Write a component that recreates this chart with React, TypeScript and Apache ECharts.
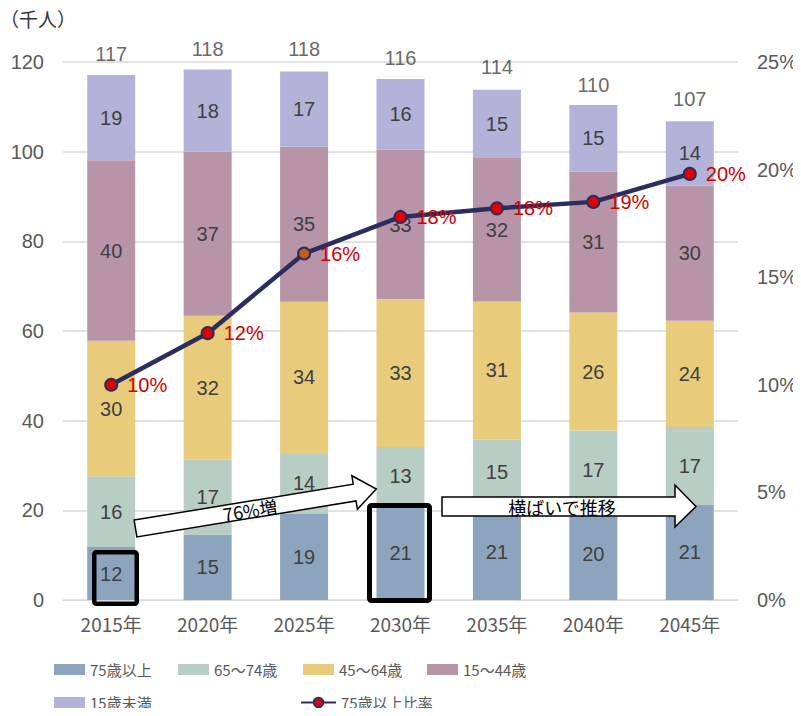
import React, { useEffect, useRef } from "react";
import * as echarts from "echarts";

const years = ["2015年", "2020年", "2025年", "2030年", "2035年", "2040年", "2045年"];
const age75plus = [11.8, 14.6, 19.2, 21.0, 21.2, 20.4, 21.2];
const age65to74 = [15.8, 16.7, 13.6, 13.1, 14.6, 17.4, 17.4];
const age45to64 = [30.2, 32.1, 33.7, 33.0, 30.8, 26.3, 23.7];
const age15to44 = [40.3, 36.6, 34.6, 33.3, 32.0, 31.4, 30.1];
const under15 = [19.0, 18.3, 16.8, 15.8, 15.2, 14.9, 14.4];
const totals = [117, 118, 118, 116, 114, 110, 107];
const ratio75 = [10.0, 12.4, 16.1, 17.8, 18.2, 18.5, 19.8];
const leftTicks = [0, 20, 40, 60, 80, 100, 120];
const rightTicks = [0, 5, 10, 15, 20, 25];

const NUM_FONT = "Liberation Sans, Arial, sans-serif";
const JP_FONT = "Noto Sans CJK JP, sans-serif";

export default function App() {
  const ref = useRef<HTMLDivElement>(null);
  useEffect(() => {
    if (!ref.current) return;
    const chart = echarts.init(ref.current, null, { renderer: "svg" });
    const barLabel = {
      show: true,
      position: "inside",
      color: "#404040",
      fontSize: 20,
      fontFamily: NUM_FONT,
      formatter: (p: any) => String(Math.round(p.value)),
    };
    const mkBar = (name: string, data: number[], color: string) => ({
      name,
      type: "bar",
      stack: "pop",
      data,
      barWidth: 48,
      itemStyle: { color },
      label: barLabel,
      z: 2,
    });
    const legendText = { color: "#595959", fontSize: 15, fontFamily: JP_FONT };
    const barLegend = (name: string, left: number, top: number) => ({
      left,
      top,
      padding: 0,
      itemWidth: 31,
      itemHeight: 11,
      icon: "rect",
      textStyle: legendText,
      data: [name],
    });
    const option: any = {
      animation: false,
      grid: { left: 63, right: 63, top: 62, bottom: 116, containLabel: false },
      xAxis: {
        type: "category",
        data: years,
        axisLine: { lineStyle: { color: "#D9D9D9", width: 1 } },
        axisTick: { show: false },
        axisLabel: { color: "#595959", fontSize: 19, fontFamily: JP_FONT, margin: 14 },
      },
      yAxis: [
        {
          type: "value",
          min: leftTicks[0],
          max: leftTicks[leftTicks.length - 1],
          interval: 20,
          axisLine: { show: false },
          axisTick: { show: false },
          splitLine: { lineStyle: { color: "#D9D9D9", width: 1.5 } },
          axisLabel: { color: "#595959", fontSize: 20, fontFamily: NUM_FONT, margin: 19 },
        },
        {
          type: "value",
          min: rightTicks[0],
          max: rightTicks[rightTicks.length - 1],
          interval: 5,
          axisLine: { show: false },
          axisTick: { show: false },
          splitLine: { show: false },
          axisLabel: {
            color: "#595959",
            fontSize: 20,
            fontFamily: NUM_FONT,
            margin: 19,
            formatter: "{value}%",
          },
        },
      ],
      legend: [
        barLegend("75歳以上", 54, 662),
        barLegend("65～74歳", 178, 662),
        barLegend("45～64歳", 303, 662),
        barLegend("15～44歳", 427, 662),
        barLegend("15歳未満", 54, 695),
        {
          left: 300,
          top: 695,
          padding: 0,
          itemWidth: 35,
          itemHeight: 12,
          textStyle: legendText,
          data: ["75歳以上比率"],
        },
      ],
      series: [
        mkBar("75歳以上", age75plus, "#8DA4BE"),
        mkBar("65～74歳", age65to74, "#B8CDC4"),
        mkBar("45～64歳", age45to64, "#E8CC7C"),
        mkBar("15～44歳", age15to44, "#B894A9"),
        mkBar("15歳未満", under15, "#B3B3D9"),
        {
          name: "合計",
          type: "scatter",
          data: totals,
          symbolSize: 1,
          itemStyle: { color: "rgba(0,0,0,0)" },
          label: {
            show: true,
            position: "top",
            distance: 11,
            color: "#404040",
            fontSize: 20,
            fontFamily: NUM_FONT,
          },
          z: 3,
        },
        {
          name: "75歳以上比率",
          type: "line",
          yAxisIndex: 1,
          data: ratio75.map((v, i) =>
            i === 2 ? { value: v, itemStyle: { color: "#C55A11" } } : v
          ),
          symbol: "circle",
          symbolSize: 12,
          lineStyle: { color: "#2B2D5E", width: 4.5 },
          itemStyle: { color: "#E60000", borderColor: "#2B2D5E", borderWidth: 2 },
          label: {
            show: true,
            position: "right",
            distance: 9,
            color: "#D00000",
            fontSize: 20,
            fontFamily: NUM_FONT,
            formatter: (p: any) => Math.round(p.value) + "%",
          },
          z: 5,
        },
      ],
      graphic: [
        {
          type: "text",
          left: 0,
          top: 9,
          z: 100,
          style: { text: "（千人）", fill: "#333333", fontSize: 19, fontFamily: JP_FONT },
        },
        {
          type: "group",
          x: 135.5,
          y: 528.5,
          rotation: 0.163,
          z: 100,
          children: [
            {
              type: "polygon",
              z: 100,
              shape: {
                points: [
                  [0, -8.5],
                  [222, -8.5],
                  [222, -17],
                  [244, 0],
                  [222, 17],
                  [222, 8.5],
                  [0, 8.5],
                ],
              },
              style: { fill: "#FFFFFF", stroke: "#000000", lineWidth: 1.5 },
            },
            {
              type: "text",
              z: 101,
              x: 116,
              y: 0,
              style: {
                text: "76%増",
                fill: "#000000",
                fontSize: 18,
                fontFamily: JP_FONT,
                align: "center",
                verticalAlign: "middle",
              },
            },
          ],
        },
        {
          type: "polygon",
          z: 100,
          shape: {
            points: [
              [442, 497],
              [675, 497],
              [675, 485],
              [696, 506.5],
              [675, 527],
              [675, 516],
              [442, 516],
            ],
          },
          style: { fill: "#FFFFFF", stroke: "#000000", lineWidth: 1.5 },
        },
        {
          type: "text",
          z: 101,
          x: 562,
          y: 506.5,
          style: {
            text: "横ばいで推移",
            fill: "#000000",
            fontSize: 18,
            fontFamily: JP_FONT,
            align: "center",
            verticalAlign: "middle",
          },
        },
        {
          type: "rect",
          z: 100,
          shape: { x: 94.25, y: 552.25, width: 42.5, height: 51.5, r: 2 },
          style: { fill: "none", stroke: "#000000", lineWidth: 4.5 },
        },
        {
          type: "rect",
          z: 100,
          shape: { x: 369.5, y: 505.5, width: 60, height: 95, r: 2 },
          style: { fill: "none", stroke: "#000000", lineWidth: 5 },
        },
      ],
    };
    chart.setOption(option);
    return () => chart.dispose();
  }, []);
  return <div ref={ref} style={{ width: 801, height: 716, margin: -8 }} />;
}
